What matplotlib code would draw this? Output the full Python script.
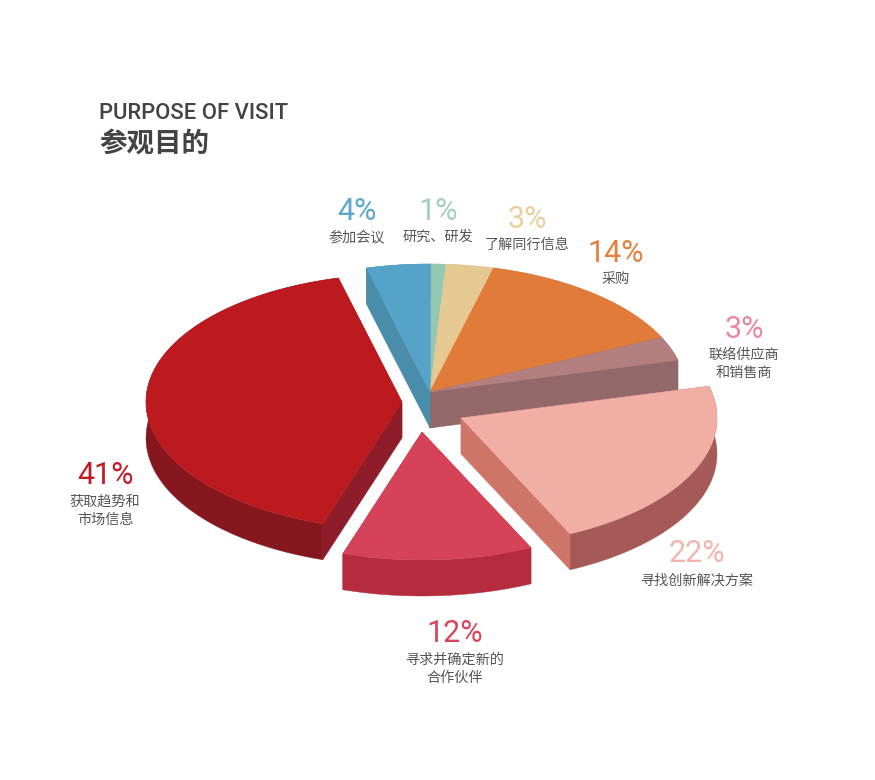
import numpy as np
import matplotlib
matplotlib.use('Agg')
import matplotlib.pyplot as plt

plt.rcParams['font.family'] = ['Noto Sans CJK SC', 'DejaVu Sans']

# Slices clockwise from 12 o'clock
values = [1, 3, 14, 3, 22, 12, 41, 4]
labels = ['研究、研发', '了解同行信息', '采购', '联络供应商\n和销售商',
          '寻找创新解决方案', '寻求并确定新的\n合作伙伴', '获取趋势和\n市场信息', '参加会议']

# Colours: top face, outer wall, cut wall, number
top_colors = ['#93c9b3', '#e6c893', '#e07b39', '#b27f7e', '#f0aea5', '#d64358', '#bd1a20', '#55a3c8']
outer_colors = ['#93c9b3', '#e6c893', '#e07b39', '#936868', '#a55a57', '#b52c3e', '#86171f', '#4a8dab']
wall_colors = ['#93c9b3', '#e6c893', '#e07b39', '#936868', '#cf7568', '#b52c3e', '#8e1c2a', '#4a8dab']
num_colors = ['#a3d0bb', '#ebcf9b', '#e2813f', '#e88a9f', '#f2b5ac', '#d8455a', '#c11b24', '#5ba7cb']

# How far each slice is pulled out of the pie, in pixels
offsets = [(0, 0), (0, 0), (0, 0), (0, 0), (31, 26), (-8, 40), (-28, 10), (0, 0)]
# Centre of the number and of the first label line
text_pos = [(438, 208), (527, 216), (616, 250), (744, 326), (697, 551), (455, 631), (105, 473), (357, 209)]

cx, cy = 430, 392
rx, ry = 256, 128
depth = 36

fig = plt.figure(figsize=(8.75, 7.8), dpi=100)
ax = fig.add_axes([0, 0, 1, 1])
ax.set_xlim(0, 875)
ax.set_ylim(780, 0)
ax.axis('off')

# Cumulative share turned into angles
ends = np.cumsum(values) / sum(values) * 2 * np.pi
starts = ends - np.array(values) / sum(values) * 2 * np.pi

for i in range(len(values)):
    ox, oy = offsets[i]
    ax0 = cx + ox
    ay0 = cy + oy
    t = np.linspace(starts[i], ends[i], 120)
    x = ax0 + rx * np.sin(t)
    y = ay0 - ry * np.cos(t)

    # Outer wall
    ax.fill(np.r_[x, x[::-1]], np.r_[y, y[::-1] + depth], color=outer_colors[i], lw=0.3)
    # Cut walls; the hidden one ends up under the top face
    for k in [0, -1]:
        ax.fill([ax0, x[k], x[k], ax0], [ay0, y[k], y[k] + depth, ay0 + depth],
                color=wall_colors[i], lw=0.3)
    # Top face
    ax.fill(np.r_[ax0, x], np.r_[ay0, y], color=top_colors[i], lw=0.3)

    # Number and label
    tx, ty = text_pos[i]
    ax.text(tx, ty, '%d%%' % values[i], color=num_colors[i], fontsize=22,
            ha='center', va='center_baseline', family=['Roboto', 'DejaVu Sans'])
    for n, line in enumerate(labels[i].split('\n')):
        ax.text(tx, ty + 29 + n * 18, line, color='#555555', fontsize=10.2, ha='center', va='center')

# Title
ax.text(99, 111, 'PURPOSE OF VISIT', color='#444444', fontsize=15.8, fontweight='medium',
        ha='left', va='center_baseline', family=['Roboto', 'DejaVu Sans'])
ax.text(99, 144, '参观目的', color='#444444', fontsize=19.8, fontweight='bold', ha='left', va='center')

fig.savefig('out.png', dpi=100, facecolor='white')
